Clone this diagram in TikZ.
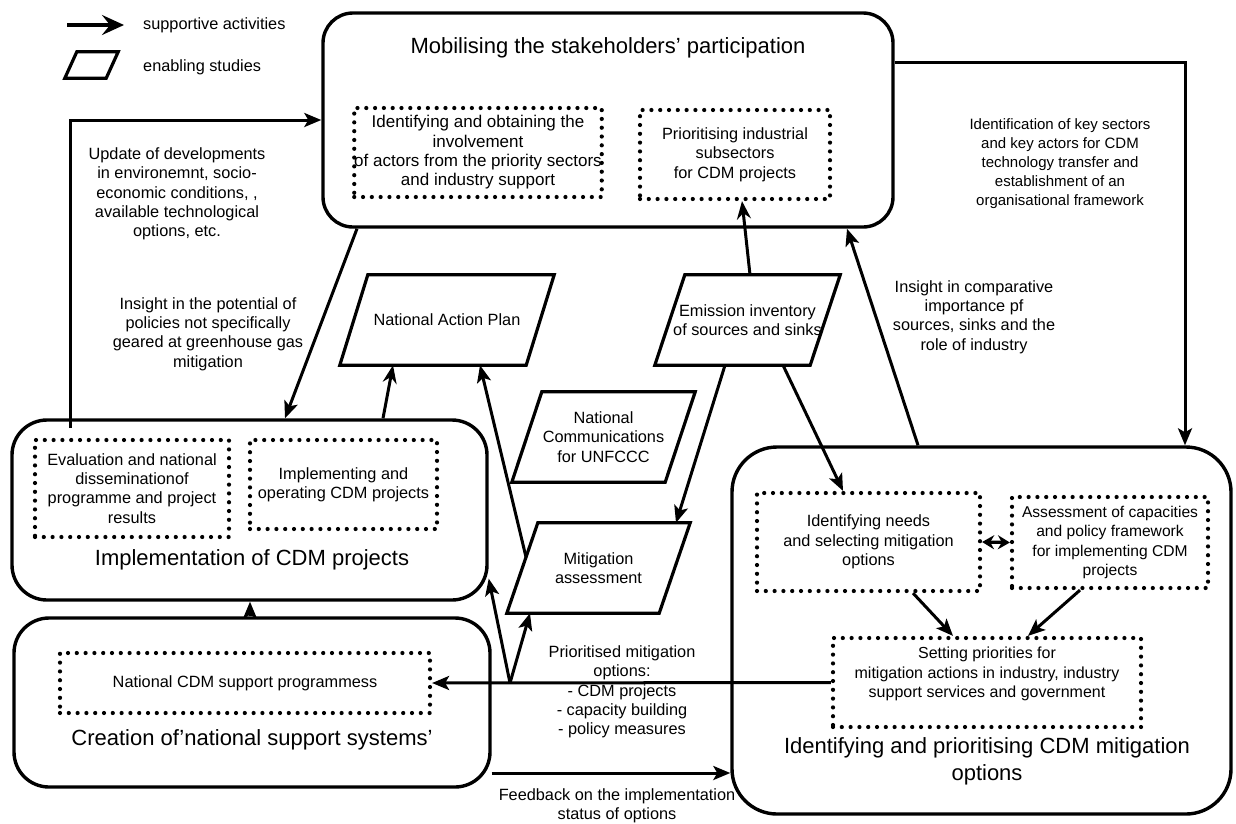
\documentclass[tikz,border=0pt]{standalone}
\usepackage{fontspec}
\setmainfont{Liberation Sans}
\usetikzlibrary{arrows.meta,calc}

\tikzset{
  txt/.style={font=\fontsize{16.3}{19.3}\selectfont, align=center, inner sep=0pt},
  smalltxt/.style={font=\fontsize{15}{19}\selectfont, align=center, inner sep=0pt},
  ttl/.style={font=\fontsize{22}{27}\selectfont, align=center, inner sep=0pt},
  stage/.style={draw, line width=3.4pt, rounded corners=#1, inner sep=0pt},
  stage/.default=35pt,
  activity/.style={draw, line width=4.2pt, dash pattern=on 0pt off 8.8pt, line cap=round,
    txt, inner sep=0pt},
  study/.style={txt, inner sep=0pt},
  studyline/.style={draw, line width=3.2pt, line join=miter},
  link/.style={line width=3pt, -{Stealth[length=17pt,width=14pt,inset=4pt]}},
  supp/.style={line width=3pt, -{Stealth[length=18pt,width=14pt,inset=6pt,open]}},
  both/.style={line width=3.2pt, {Stealth[length=12pt,width=14pt]}-{Stealth[length=12pt,width=14pt]}},
}
% parallelogram frame round a node: #1 node name, #2 horizontal slant
\newcommand\studyframe[2]{%
  \coordinate (#1-tl) at ($(#1.north west)+(#2,0)$);
  \coordinate (#1-br) at ($(#1.south east)-(#2,0)$);
  \draw[studyline] (#1.south west) -- (#1-tl) -- (#1.north east) -- (#1-br) -- cycle;}

\begin{document}
\begin{tikzpicture}[x=1pt,y=-1pt]
\useasboundingbox (0,0) rectangle (1236,823);

% ---------- legend ----------
\coordinate (lg1) at (67,25);
\coordinate (lg2) at (124,25);
\draw[line width=3.4pt, -{Stealth[length=22pt,width=20pt,inset=8pt]}] (lg1) -- (lg2);
\node[txt, anchor=west] (lgt1) at (143,25) {supportive activities};
\node[study, minimum width=53pt, minimum height=26pt] (lgp) at (91.5,65) {};
\studyframe{lgp}{12}
\node[txt, anchor=west] (lgt2) at (143,67) {enabling studies};

% ---------- stages ----------
\node[stage=30pt, minimum width=570pt, minimum height=214pt] (mob) at (608,120) {};
\node[ttl] (mobt) at (608,48) {Mobilising the stakeholders' participation};
\node[activity, minimum width=246pt, minimum height=89pt, font=\fontsize{17}{19.3}\selectfont] (inv) at (478,152.5)
  {Identifying and obtaining the\\involvement\\of actors from the priority sectors\\and industry support};
\node[activity, minimum width=190pt, minimum height=89pt] (pri) at (735,154.5)
  {Prioritising industrial\\subsectors\\for CDM projects};

\node[stage=35pt, minimum width=475pt, minimum height=180pt] (impl) at (249.5,510) {};
\node[ttl] (implt) at (252,560) {Implementation of CDM projects};
\node[activity, minimum width=194pt, minimum height=97pt] (eval) at (132,488.5)
  {Evaluation and national\\disseminationof\\programme and project\\results};
\node[activity, minimum width=187pt, minimum height=89pt] (oper) at (343.5,484.5)
  {Implementing and\\operating CDM projects};

\node[stage=35pt, minimum width=476pt, minimum height=169pt] (cre) at (252,702.5) {};
\node[ttl] (cret) at (252,740) {Creation of'national support systems'};
\node[activity, minimum width=370pt, minimum height=60pt] (ncdm) at (245,683)
  {National CDM support programmess};

\node[stage=45pt, minimum width=499pt, minimum height=367pt] (idp) at (981.5,630.5) {};
\node[ttl] (idpt) at (987,761.5) {Identifying and prioritising CDM mitigation\\options};
\node[activity, minimum width=223pt, minimum height=98pt] (need) at (868.5,542)
  {Identifying needs\\and selecting mitigation\\options};
\node[activity, minimum width=196pt, minimum height=91pt, font=\fontsize{15.6}{19.3}\selectfont] (assess) at (1110,542.5)
  {Assessment of capacities\\and policy framework\\for implementing CDM\\projects};
\node[activity, minimum width=308pt, minimum height=89pt] (setp) at (987,682.5) {};
\node[txt, font=\fontsize{16}{19.3}\selectfont] (setpt) at (987,674)
  {Setting priorities for\\mitigation actions in industry, industry\\support services and government};

% ---------- enabling studies ----------
\node[study, minimum width=214pt, minimum height=90pt] (nap) at (447,320) {National Action Plan};
\studyframe{nap}{28}
\node[study, minimum width=185pt, minimum height=90pt] (ei) at (747.5,320)
  {Emission inventory\\of sources and sinks};
\studyframe{ei}{30}
\node[study, minimum width=183pt, minimum height=90pt] (nc) at (603.5,437)
  {National\\Communications\\for UNFCCC};
\studyframe{nc}{30}
\node[study, minimum width=183pt, minimum height=90pt] (ma) at (598.5,568)
  {Mitigation\\assessment};
\studyframe{ma}{31}

% ---------- connectors ----------
\coordinate (u0) at (70,428);
\draw[link] (u0) |- (mob.west);
\node[txt] (updl) at (177,194)
  {Update of developments\\in environemnt, socio-\\economic conditions, ,\\available technological\\options, etc.};

\draw[link] (mob.south -| 357,0) -- (impl.north -| 285,0);
\node[txt] (insl) at (208,334)
  {Insight in the potential of\\policies not specifically\\geared at greenhouse gas\\mitigation};

\draw[supp] (impl.north -| 383,0) -- (nap.south -| 393,0);
\draw[link] ($(ma.south west)!0.62!(ma-tl)$) -- (nap.south -| 480,0);
\draw[supp] (ei.north -| 750,0) -- (pri.south -| 742,0);
\draw[link] (ei.south -| 725,0) -- (ma.north -| 676,0);
\draw[link] (ei.south -| 783,0) -- (need.north -| 843,0);

\draw[link] (idp.north -| 918,0) -- (mob.south -| 847,0);
\node[txt] (cmpl) at (974,317)
  {Insight in comparative\\importance pf\\sources, sinks and the\\role of industry};

\draw[link] (mob.east |- 0,62) -| (idp.north -| 1185,0);
\node[smalltxt] (keyl) at (1060,164)
  {Identification of key sectors\\and key actors for CDM\\technology transfer and\\establishment of an\\organisational framework};

\draw[both] (need.east) -- (assess.west);
\draw[link] (need.south -| 913,0) -- (setp.north -| 953,0);
\draw[link] (assess.south -| 1080,0) -- (setp.north -| 1028,0);

\draw[link] (setp.west) -- (ncdm.east);
\coordinate (j) at (510,683);
\draw[link] (j) -- (impl.-16);
\draw[link] (j) -- (ma.south -| 530,0);
\node[txt] (pril) at (622,692)
  {Prioritised mitigation\\options:\\- CDM projects\\- capacity building\\- policy measures};

\draw[link] (cre.north -| 250,0) -- (impl.south -| 250,0);

\draw[link] (cre.east |- 0,773) -- (idp.west |- 0,773);
\node[txt] (fbl) at (617,806) {Feedback on the implementation\\status of options};
\end{tikzpicture}
\end{document}
